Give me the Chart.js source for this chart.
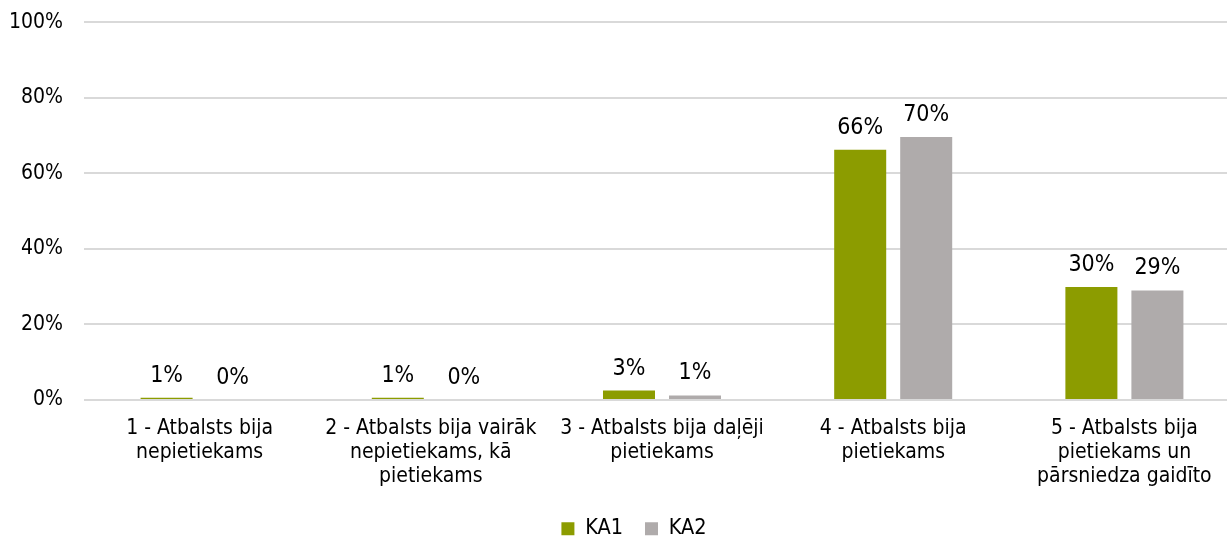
<!DOCTYPE html>
<html>
<head>
<meta charset="utf-8">
<script src="https://cdn.jsdelivr.net/npm/chart.js@4"></script>
<style>
  html, body { margin: 0; padding: 0; background: #ffffff; overflow: hidden; }
  #wrap { position: relative; width: 1266px; height: 540px; }
</style>
</head>
<body>
<div id="wrap"><canvas id="c" width="1266" height="540"></canvas></div>
<script>
const categories = [
  ["1 - Atbalsts bija", "nepietiekams"],
  ["2 - Atbalsts bija vairāk", "nepietiekams, kā", "pietiekams"],
  ["3 - Atbalsts bija daļēji", "pietiekams"],
  ["4 - Atbalsts bija", "pietiekams"],
  ["5 - Atbalsts bija", "pietiekams un", "pārsniedza gaidīto"]
];
const seriesNames = ["KA1", "KA2"];
const ka1Values = [0.6, 0.6, 2.5, 66.2, 29.9];
const ka2Values = [0, 0, 1.2, 69.6, 29.0];
const yTicks = [0, 20, 40, 60, 80, 100];

const FONT = "'DejaVu Sans Condensed', 'DejaVu Sans', Verdana, sans-serif";

const dataLabels = {
  id: 'dataLabels',
  afterDatasetsDraw(chart) {
    const ctx = chart.ctx;
    ctx.save();
    ctx.font = "23px " + FONT;
    ctx.fillStyle = '#000000';
    ctx.textAlign = 'center';
    ctx.textBaseline = 'alphabetic';
    chart.data.datasets.forEach((ds, di) => {
      const meta = chart.getDatasetMeta(di);
      meta.data.forEach((bar, i) => {
        const v = ds.data[i];
        ctx.fillText(Math.round(v) + '%', bar.x, bar.y - 16);
      });
    });
    ctx.restore();
  }
};

const legendFit = {
  id: 'legendFit',
  beforeInit(chart) {
    const orig = chart.legend.fit;
    chart.legend.fit = function () {
      orig.call(this);
      this.height = 44;
    };
  },
  afterLayout(chart) {
    chart.legend.left = 0;
    chart.legend.right = 1268;
  }
};

new Chart(document.getElementById('c'), {
  type: 'bar',
  data: {
    labels: categories,
    datasets: [
      { label: seriesNames[0], data: ka1Values, backgroundColor: '#8C9C00', borderWidth: 0 },
      { label: seriesNames[1], data: ka2Values, backgroundColor: '#AFABAB', borderWidth: 0 }
    ]
  },
  options: {
    responsive: false,
    animation: false,
    devicePixelRatio: 1,
    categoryPercentage: 0.571,
    barPercentage: 0.788,
    layout: { padding: { top: 0, right: 26, bottom: 0, left: 0 } },
    plugins: {
      legend: {
        position: 'bottom',
        labels: {
          font: { family: FONT, size: 21.5 },
          color: '#000000',
          boxWidth: 13,
          boxHeight: 13,
          padding: 22
        }
      },
      tooltip: { enabled: false }
    },
    scales: {
      x: {
        grid: { display: false, drawTicks: false },
        border: { display: false },
        ticks: {
          font: { family: FONT, size: 21, lineHeight: 1.15 },
          color: '#000000',
          padding: 16,
          maxRotation: 0,
          autoSkip: false
        },
        afterFit(scale) { scale.height = 96; }
      },
      y: {
        min: 0,
        max: 100,
        afterBuildTicks(scale) { scale.ticks = yTicks.map(v => ({ value: v })); },
        grid: { color: '#D9D9D9', lineWidth: 2, drawTicks: false },
        border: { display: false },
        ticks: {
          font: { family: FONT, size: 21, lineHeight: 0.1 },
          color: '#000000',
          padding: 21,
          callback: v => v + '%'
        },
        afterFit(scale) { scale.width = 84; }
      }
    }
  },
  plugins: [dataLabels, legendFit]
});
</script>
</body>
</html>
